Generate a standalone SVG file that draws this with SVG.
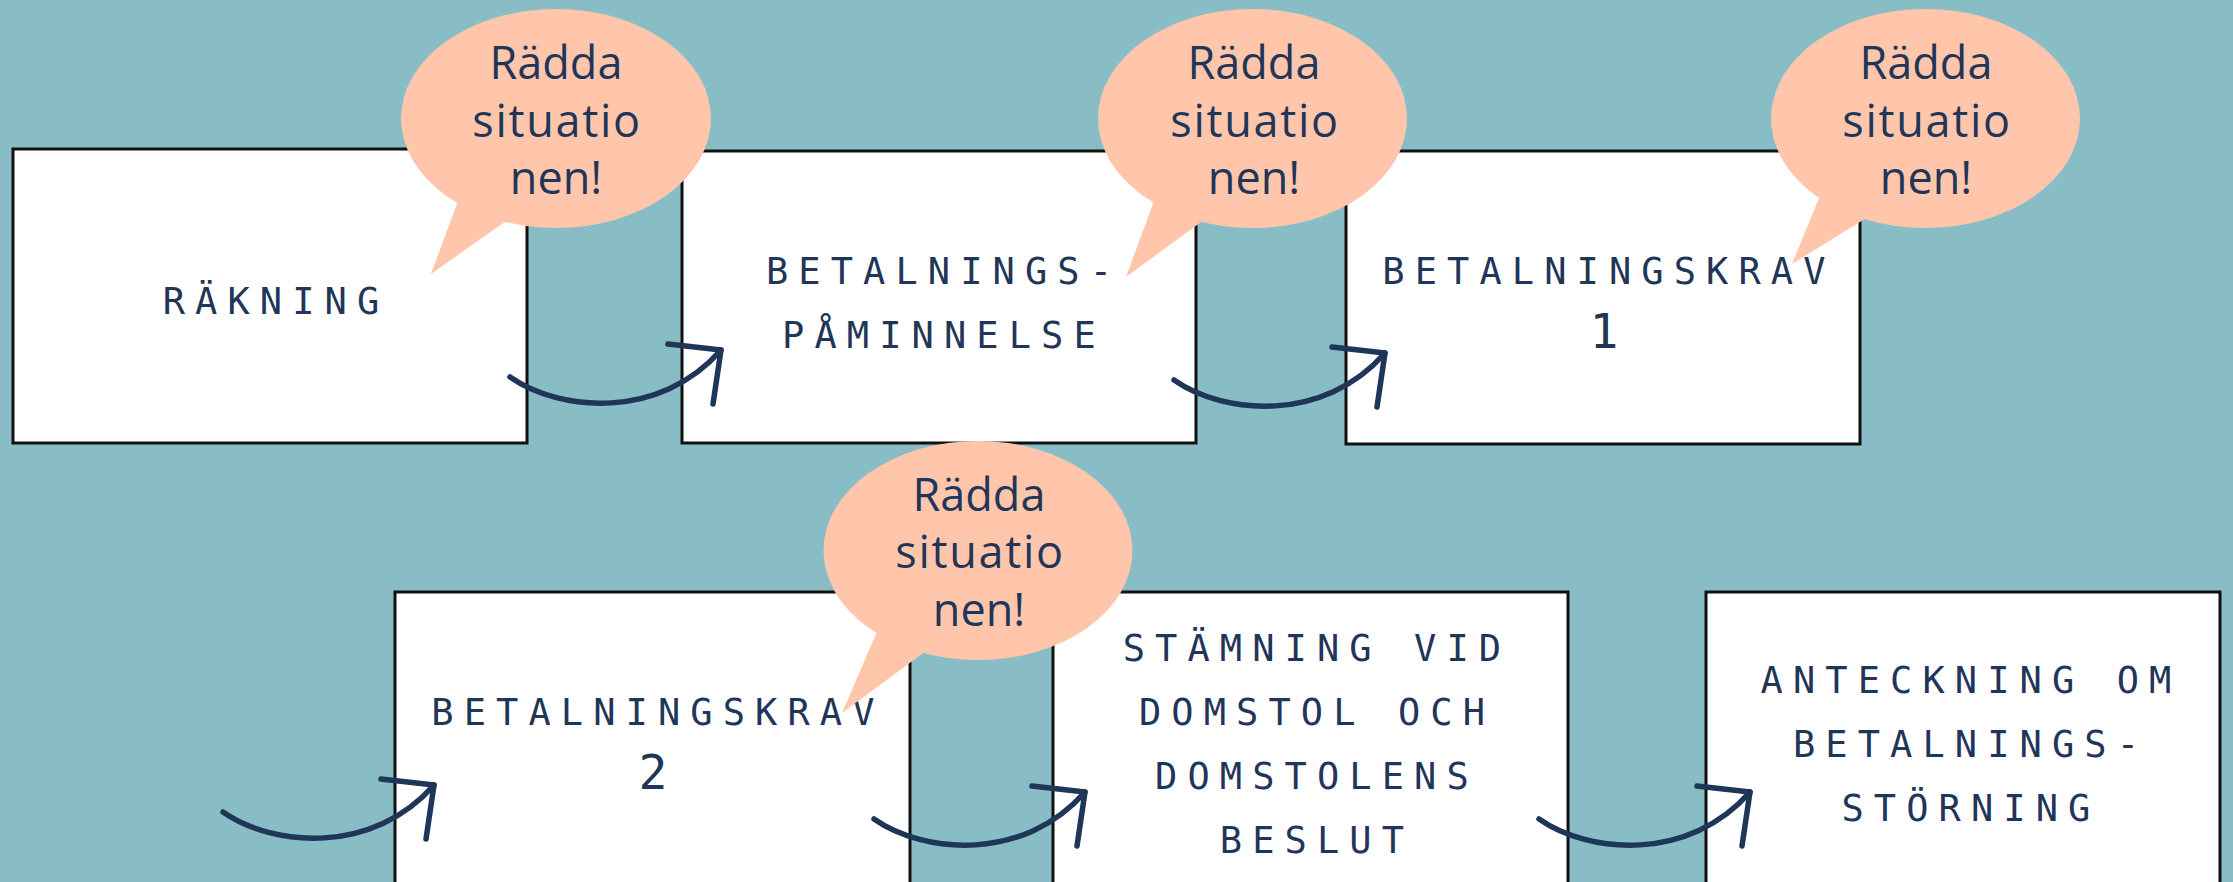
<svg xmlns="http://www.w3.org/2000/svg" xmlns:xlink="http://www.w3.org/1999/xlink" width="2233" height="882" viewBox="0 0 2233 882">
<style>
.box{fill:#ffffff;stroke:#111111;stroke-width:3}
.lbl{font-family:"DejaVu Sans Mono","Liberation Mono",monospace;font-size:37px;letter-spacing:10.1px;fill:#1f3658;text-anchor:middle}
.num{font-family:"DejaVu Sans Mono","Liberation Mono",monospace;font-size:48px;fill:#1f3658;text-anchor:middle}
.bub{fill:#ffc6ab}
.btx{font-family:"Open Sans","Noto Sans",sans-serif;font-size:45px;fill:#1f3658;text-anchor:middle}
.wide{letter-spacing:1.7px}
.arr{fill:none;stroke:#1f3658;stroke-width:5.5;stroke-linecap:round;stroke-linejoin:round}
</style>
<defs>
<g id="arrow">
<path class="arr" d="M510,377 C560,412 660,420 721,350"/>
<path class="arr" d="M668,344 L721,350 L713,404"/>
</g>
</defs>
<rect width="2233" height="882" fill="#88bdc6"/>

<g id="node-rakning">
<rect class="box" x="13" y="149" width="514" height="294"/>
<text class="lbl" x="276" y="314">RÄKNING</text>
</g>
<g id="node-paminnelse">
<rect class="box" x="682" y="151" width="514" height="292"/>
<text class="lbl" x="944" y="284">BETALNINGS-</text>
<text class="lbl" x="944" y="348">PÅMINNELSE</text>
</g>
<g id="node-krav1">
<rect class="box" x="1346" y="151" width="514" height="293"/>
<text class="lbl" x="1609" y="284">BETALNINGSKRAV</text>
<text class="num" x="1604" y="348">1</text>
</g>
<g id="node-krav2">
<rect class="box" x="395" y="592" width="515" height="310"/>
<text class="lbl" x="658" y="725">BETALNINGSKRAV</text>
<text class="num" x="653" y="789">2</text>
</g>
<g id="node-stamning">
<rect class="box" x="1053" y="592" width="515" height="310"/>
<text class="lbl" x="1317" y="661">STÄMNING VID</text>
<text class="lbl" x="1317" y="725">DOMSTOL OCH</text>
<text class="lbl" x="1317" y="789">DOMSTOLENS</text>
<text class="lbl" x="1317" y="853">BESLUT</text>
</g>
<g id="node-anteckning">
<rect class="box" x="1706" y="592" width="514" height="310"/>
<text class="lbl" x="1971" y="693">ANTECKNING OM</text>
<text class="lbl" x="1971" y="757">BETALNINGS-</text>
<text class="lbl" x="1971" y="821">STÖRNING</text>
</g>

<g id="connectors">
<use xlink:href="#arrow"/>
<use xlink:href="#arrow" transform="translate(664,3)"/>
<use xlink:href="#arrow" transform="translate(-287,435)"/>
<use xlink:href="#arrow" transform="translate(364,442)"/>
<use xlink:href="#arrow" transform="translate(1029,442)"/>
</g>

<g id="bubble-1">
<ellipse class="bub" cx="556" cy="118.5" rx="155" ry="109.5"/>
<polygon class="bub" points="462,190 431,274 516,214"/>
<text class="btx" x="556" y="79">Rädda</text>
<text class="btx wide" x="557" y="137">situatio</text>
<text class="btx" x="556" y="194">nen!</text>
</g>
<g id="bubble-2">
<ellipse class="bub" cx="1252.5" cy="118.5" rx="154.5" ry="109.5"/>
<polygon class="bub" points="1158,190 1126,277 1212,214"/>
<text class="btx" x="1254" y="79">Rädda</text>
<text class="btx wide" x="1255" y="137">situatio</text>
<text class="btx" x="1254" y="194">nen!</text>
</g>
<g id="bubble-3">
<ellipse class="bub" cx="1925.5" cy="118.5" rx="154.5" ry="109.5"/>
<polygon class="bub" points="1824,186 1792,264 1876,212"/>
<text class="btx" x="1926" y="79">Rädda</text>
<text class="btx wide" x="1927" y="137">situatio</text>
<text class="btx" x="1926" y="194">nen!</text>
</g>
<g id="bubble-4">
<ellipse class="bub" cx="978" cy="550.5" rx="154.5" ry="109.5"/>
<polygon class="bub" points="882,620 842,713 934,645"/>
<text class="btx" x="979" y="511">Rädda</text>
<text class="btx wide" x="980" y="568">situatio</text>
<text class="btx" x="979" y="626">nen!</text>
</g>
</svg>
